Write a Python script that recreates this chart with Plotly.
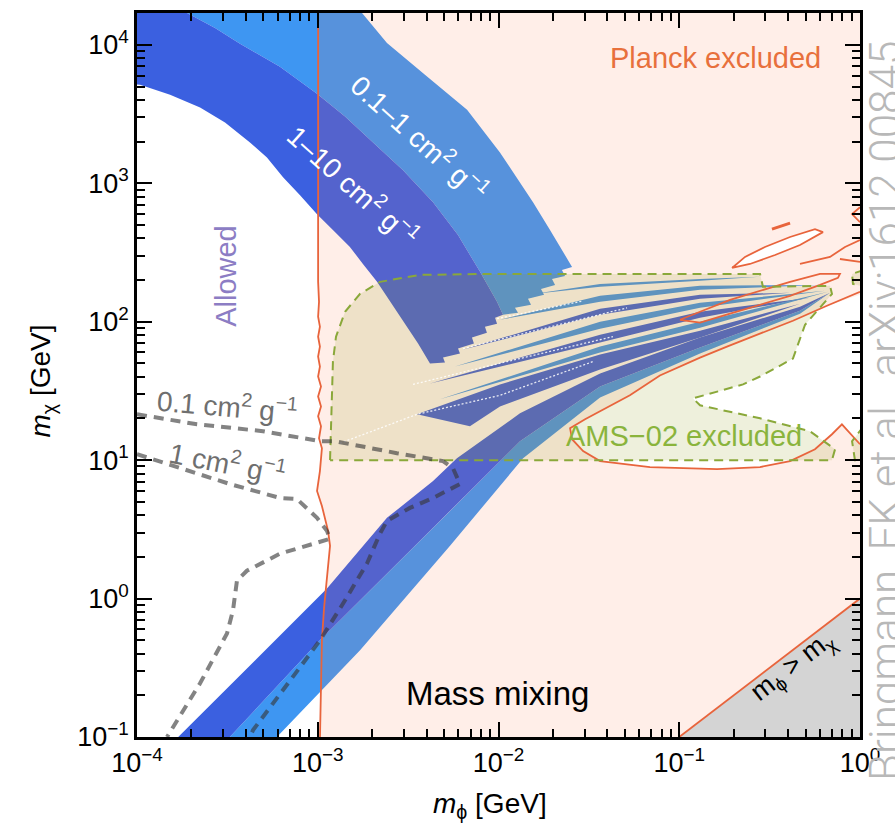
import numpy as np
import plotly.graph_objects as go

# ---------------- axis decades (tick labels) ----------------
X_DECADES = [-4, -3, -2, -1, 0]
Y_DECADES = [-1, 0, 1, 2, 3, 4]
X_RANGE_LOG = [-4.0, 0.0]
Y_RANGE_LOG = [-1.0, 4.23]

# ---------------- region boundaries ----------------
# all values are log10(m_phi / GeV) and log10(m_chi / GeV)

# upper branch, 1-10 cm^2/g (dark): dark/light boundary, jagged end, lower edge
UPPER_DARK_LX = [-4.05, -3.77, -3.723, -3.568, -3.430, -3.209, -3.004, -2.849, -2.694, -2.528,
                 -2.362, -2.224, -2.102, -2.008, -1.975,
                 -2.019, -2.008, -2.075, -2.064, -2.147, -2.136, -2.224, -2.213, -2.307, -2.296,
                 -2.379, -2.445, -2.517, -2.600, -2.672, -2.750, -2.822, -2.916, -3.004, -3.098,
                 -3.192, -3.281, -3.375, -3.513, -3.651, -3.817, -3.983, -4.05]
UPPER_DARK_LY = [4.30, 4.30, 4.23, 4.122, 4.007, 3.842, 3.647, 3.482, 3.295, 3.094,
                 2.863, 2.626, 2.360, 2.144, 2.050,
                 2.029, 1.986, 1.964, 1.921, 1.885, 1.842, 1.806, 1.770, 1.741, 1.705,
                 1.698, 1.842, 1.986, 2.144, 2.288, 2.417, 2.540, 2.662, 2.777, 2.914,
                 3.043, 3.187, 3.295, 3.439, 3.547, 3.640, 3.712, 3.72]
# upper branch, 0.1-1 cm^2/g (light): upper edge, jagged end, dark/light boundary
UPPER_LIGHT_LX = [-3.77, -2.80, -2.755, -2.617, -2.407, -2.174, -1.992, -1.809, -1.715, -1.621, -1.593,
                  -1.649, -1.632, -1.704, -1.687, -1.765, -1.748, -1.837, -1.820, -1.909, -1.892, -1.975,
                  -2.008, -2.102, -2.224, -2.362, -2.528, -2.694, -2.849, -3.004, -3.209, -3.430,
                  -3.568, -3.723]
UPPER_LIGHT_LY = [4.30, 4.30, 4.23, 4.014, 3.784, 3.532, 3.223, 2.863, 2.662, 2.453, 2.396,
                  2.374, 2.331, 2.309, 2.266, 2.237, 2.194, 2.165, 2.122, 2.101, 2.065, 2.050,
                  2.144, 2.360, 2.626, 2.863, 3.094, 3.295, 3.482, 3.647, 3.842, 4.007,
                  4.122, 4.23]

# resonance fan (tongues)
FAN1_LX = [-1.809, -1.438, -0.885, -0.553, -0.885, -1.438]
FAN1_LY = [2.201, 2.273, 2.309, 2.324, 2.295, 2.252]
FAN2_LX = [-1.992, -1.438, -0.885, -0.221, -0.885, -1.438]
FAN2_LY = [2.014, 2.187, 2.259, 2.266, 2.230, 2.144]
FAN3_LX = [-2.196, -1.438, -0.885, -0.387, -0.885, -1.438]
FAN3_LY = [1.799, 2.094, 2.194, 2.209, 2.165, 2.050]
FAN4_LX = [-2.241, -1.438, -0.885, -0.194, -0.885, -1.438]
FAN4_LY = [1.676, 2.000, 2.137, 2.223, 2.101, 1.950]
FAN5_LX = [-2.379, -1.438, -0.885, -0.277, -0.885, -1.438]
FAN5_LY = [1.554, 1.906, 2.072, 2.173, 2.029, 1.849]
FAN6_LX = [-2.324, -1.438, -0.885, -0.177, -0.885, -1.438]
FAN6_LY = [1.439, 1.820, 2.000, 2.216, 1.957, 1.777]
FAN7_LX = [-2.451, -1.992, -1.438, -0.885, -0.332, -0.885, -1.438, -1.992, -2.158]
FAN7_LY = [1.331, 1.547, 1.763, 1.935, 2.129, 1.885, 1.655, 1.388, 1.245]

# lower branch
LOWER_DARK_LX = [-3.795, -2.949, -2.617, -2.362, -2.230, -1.881, -1.438, -0.885, -0.332, -0.166,
                 -0.332, -0.885, -1.438, -1.881, -2.102, -2.268, -2.988, -3.508]
LOWER_DARK_LY = [-1.03, 0.072, 0.583, 0.849, 1.014, 1.338, 1.626, 1.885, 2.108, 2.209,
                 2.079, 1.813, 1.532, 1.137, 0.849, 0.633, -0.302, -1.03]
LOWER_LIGHT_LX = [-3.508, -2.988, -2.268, -2.102, -1.881, -1.438, -0.885, -0.332, -0.166, -0.332,
                  -0.885, -1.438, -1.864, -2.268, -2.766, -3.248]
LOWER_LIGHT_LY = [-1.03, -0.302, 0.633, 0.849, 1.137, 1.532, 1.813, 2.079, 2.209, 2.058,
                  1.770, 1.453, 1.014, 0.381, -0.374, -1.03]

# Planck bound (vertical red contour), bottom to top
PLANCK_LX = [-2.988, -2.982, -2.977, -2.965, -2.949, -2.932, -2.943, -2.977, -3.004, -2.988,
             -2.977, -2.993, -2.982, -2.998, -2.982, -2.998, -2.982, -2.998, -2.988, -2.998,
             -2.988, -2.998, -2.988, -2.998, -2.993, -2.998, -2.998]
PLANCK_LY = [-1.03, -0.590, -0.302, -0.065, 0.129, 0.381, 0.489, 0.669, 0.777, 0.921,
             1.086, 1.158, 1.245, 1.317, 1.388, 1.460, 1.532, 1.604, 1.676, 1.748,
             1.820, 1.892, 1.964, 2.036, 2.144, 2.288, 4.30]
# allowed island at high m_phi (red contour)
ISLAND_TOP_LX = [-1.604, -1.521, -1.438, -1.273, -1.107, -0.885, -0.736, -0.553, -0.371, -0.183, 0.0]
ISLAND_TOP_LY = [1.230, 1.295, 1.353, 1.468, 1.612, 1.741, 1.820, 1.914, 2.007, 2.115, 2.216]
ISLAND_BOT_LX = [0.0, -0.055, -0.100, -0.155, -0.249, -0.387, -0.553, -0.791, -1.162, -1.438, -1.532, -1.593, -1.604]
ISLAND_BOT_LY = [1.115, 1.194, 1.259, 1.187, 1.079, 0.993, 0.950, 0.935, 0.950, 0.993, 1.065, 1.151, 1.230]
ELLIPSE1_LX = [-0.708, -0.609, -0.470, -0.332, -0.205, -0.249, -0.387, -0.526, -0.636, -0.708]
ELLIPSE1_LY = [2.388, 2.417, 2.482, 2.554, 2.647, 2.669, 2.612, 2.540, 2.468, 2.388]
CONTOUR2_LX = [-0.996, -0.885, -0.719, -0.553, -0.387, -0.221, -0.122, -0.111, -0.221, -0.387, -0.553, -0.719, -0.885, -0.996]
CONTOUR2_LY = [2.014, 1.993, 2.058, 2.122, 2.187, 2.266, 2.317, 2.345, 2.345, 2.288, 2.223, 2.158, 2.072, 2.014]
SMALL_DASH_LX = [-0.487, -0.387]
SMALL_DASH_LY = [2.669, 2.712]
EDGE_U_LX = [-0.332, -0.166, -0.083, 0.0]
EDGE_U_LY = [2.417, 2.468, 2.540, 2.590]
EDGE_M_LX = [-0.111, 0.0]
EDGE_M_LY = [2.453, 2.432]
EDGE_ARC_LX = [0.0, -0.044, 0.0]
EDGE_ARC_LY = [2.827, 2.777, 2.719]

# m_phi > m_chi kinematic region
TRIANGLE_LX = [-1.0, 0.0, 0.0, -1.0]
TRIANGLE_LY = [-1.0, 0.0, -1.0, -1.0]

# AMS-02 excluded region
AMS_LX = [-2.932, -2.927, -2.916, -2.899, -2.849, -2.766, -2.656, -2.434, -2.102, -0.553, -0.537, -0.166,
          -0.155, -0.304, -0.371, -0.553, -0.647, -0.924, -0.885, -0.553, -0.277, -0.138, -0.155, -2.932]
AMS_LY = [1.0, 1.281, 1.712, 1.892, 2.072, 2.201, 2.288, 2.338, 2.345, 2.345, 2.252, 2.259,
          2.201, 1.978, 1.734, 1.604, 1.547, 1.446, 1.396, 1.302, 1.209, 1.079, 1.0, 1.0]
AMS_P1_LX = [0.02, -0.044, -0.039, 0.02]
AMS_P1_LY = [2.374, 2.345, 2.273, 2.252]
AMS_P2_LX = [0.02, -0.044, -0.028, 0.02]
AMS_P2_LY = [1.245, 1.137, 1.0, 1.0]

# grey dashed iso-cross-section lines
SIG01_LX = [-4.0, -3.668, -3.303, -3.082, -2.988, -2.905, -2.822, -2.562, -2.307, -2.252, -2.213,
            -2.362, -2.490, -2.617, -2.656, -2.728, -2.860, -2.988, -3.098, -3.358, -3.375]
SIG01_LY = [1.331, 1.259, 1.209, 1.158, 1.137, 1.137, 1.115, 1.050, 0.993, 0.942, 0.827,
            0.727, 0.655, 0.561, 0.468, 0.252, -0.036, -0.302, -0.496, -0.950, -1.0]
SIG1_LX = [-4.0, -3.762, -3.485, -3.209, -3.115, -3.004, -2.949, -2.932, -3.026, -3.209, -3.392,
           -3.447, -3.469, -3.502, -3.651, -3.817, -3.834]
SIG1_LY = [1.043, 0.942, 0.827, 0.727, 0.719, 0.583, 0.489, 0.432, 0.396, 0.324, 0.201,
           0.129, -0.086, -0.252, -0.612, -0.971, -1.0]

# thin white dotted resonance lines
DOT1_LX = [-2.877, -2.451, -1.992, -1.477]
DOT1_LY = [1.122, 1.331, 1.468, 1.712]
DOT2_LX = [-2.473, -1.953, -1.367]
DOT2_LY = [1.547, 1.712, 1.892]
DOT3_LX = [-2.196, -1.289]
DOT3_LY = [1.806, 2.10]
DOT4_LX = [-2.008, -1.532]
DOT4_LY = [2.022, 2.15]

# ---------------- colours ----------------
DARK = "#3b60e0"
LIGHT = "#3e96f2"
PINK = "rgba(255,120,80,0.13)"
AMS_FILL = "rgba(142,155,22,0.15)"
RED = "#e8643c"
AMS_LINE = "#8aa83a"
GREY_DASH = "rgba(55,55,55,0.62)"


def G(v):
    return list(10.0 ** np.asarray(v, dtype=float))


fig = go.Figure()


def poly(lx, ly, color):
    fig.add_trace(go.Scatter(x=G(lx), y=G(ly), mode="lines", fill="toself", fillcolor=color,
                             line=dict(width=0, color=color), hoverinfo="skip", showlegend=False))


def line(lx, ly, color, width, dash="solid"):
    fig.add_trace(go.Scatter(x=G(lx), y=G(ly), mode="lines",
                             line=dict(color=color, width=width, dash=dash),
                             hoverinfo="skip", showlegend=False))


# bands
poly(UPPER_LIGHT_LX, UPPER_LIGHT_LY, LIGHT)
poly(UPPER_DARK_LX, UPPER_DARK_LY, DARK)
for lx, ly, c in [(FAN1_LX, FAN1_LY, LIGHT), (FAN2_LX, FAN2_LY, LIGHT), (FAN3_LX, FAN3_LY, DARK),
                  (FAN4_LX, FAN4_LY, LIGHT), (FAN5_LX, FAN5_LY, DARK), (FAN6_LX, FAN6_LY, LIGHT),
                  (FAN7_LX, FAN7_LY, DARK)]:
    poly(lx, ly, c)
poly(LOWER_LIGHT_LX, LOWER_LIGHT_LY, LIGHT)
poly(LOWER_DARK_LX, LOWER_DARK_LY, DARK)

# Planck excluded region (pink veil), with the allowed island cut out
planck_lx = (PLANCK_LX + [0.05, 0.05] + ISLAND_TOP_LX[::-1][1:] + ISLAND_BOT_LX[::-1]
             + [0.05, 0.05, PLANCK_LX[0]])
planck_ly = (PLANCK_LY + [4.30, ISLAND_TOP_LY[-1]] + ISLAND_TOP_LY[::-1][1:] + ISLAND_BOT_LY[::-1]
             + [ISLAND_BOT_LY[0], -1.03, PLANCK_LY[0]])
poly(planck_lx, planck_ly, PINK)
poly(ELLIPSE1_LX, ELLIPSE1_LY, "white")

# kinematically forbidden triangle
poly(TRIANGLE_LX, TRIANGLE_LY, "#d4d4d4")

# AMS-02 region
poly(AMS_LX, AMS_LY, AMS_FILL)
poly(AMS_P1_LX, AMS_P1_LY, AMS_FILL)
poly(AMS_P2_LX, AMS_P2_LY, AMS_FILL)

# white dotted lines
for lx, ly in [(DOT1_LX, DOT1_LY), (DOT2_LX, DOT2_LY), (DOT3_LX, DOT3_LY), (DOT4_LX, DOT4_LY)]:
    line(lx, ly, "rgba(255,255,255,0.85)", 1.3, "2px,2px")

# red Planck contours
line(PLANCK_LX, PLANCK_LY, RED, 1.8)
line(ISLAND_BOT_LX + ISLAND_TOP_LX, ISLAND_BOT_LY + ISLAND_TOP_LY, RED, 1.8)
line(ELLIPSE1_LX, ELLIPSE1_LY, RED, 1.8)
line(CONTOUR2_LX, CONTOUR2_LY, RED, 1.8)
line(SMALL_DASH_LX, SMALL_DASH_LY, RED, 3)
line(EDGE_U_LX, EDGE_U_LY, RED, 1.8)
line(EDGE_M_LX, EDGE_M_LY, RED, 1.8)
line(EDGE_ARC_LX, EDGE_ARC_LY, RED, 1.8)
line(TRIANGLE_LX[:2], TRIANGLE_LY[:2], RED, 1.8)

# AMS dashed outline
line(AMS_LX, AMS_LY, AMS_LINE, 2, "9px,6px")
line(AMS_P1_LX, AMS_P1_LY, AMS_LINE, 2, "9px,6px")
line(AMS_P2_LX, AMS_P2_LY, AMS_LINE, 2, "9px,6px")

# grey dashed lines
line(SIG01_LX, SIG01_LY, GREY_DASH, 4, "10px,7px")
line(SIG1_LX, SIG1_LY, GREY_DASH, 4, "10px,7px")

FONT = "Liberation Sans, Arial, sans-serif"


def label(text, lx, ly, size, color, angle=0, xref="x", yref="y", family=FONT, weight=None, xanchor="center"):
    f = dict(family=family, size=size, color=color)
    if weight is not None:
        f["weight"] = weight
    fig.add_annotation(text=text, x=lx, y=ly, xref=xref, yref=yref, showarrow=False,
                       textangle=angle, font=f, xanchor=xanchor, yanchor="middle")


label("Planck excluded", -0.802, 3.906, 29, "#e8703c")
label("0.1–1 cm<sup>2</sup> g<sup>−1</sup>", -2.434, 3.331, 28, "white", 42)
label("1–10 cm<sup>2</sup> g<sup>−1</sup>", -2.80, 2.99, 28, "white", 42)
label("Allowed", -3.508, 2.331, 29, "#8c7dc4", -90)
label("0.1 cm<sup>2</sup> g<sup>−1</sup>", -3.497, 1.396, 28, "#6f6f6f", 5)
label("1 cm<sup>2</sup> g<sup>−1</sup>", -3.497, 0.986, 28, "#6f6f6f", 11)
label("AMS−02 excluded", -0.974, 1.173, 29, "#8ab43c")
label("Mass mixing", -2.003, -0.683, 33, "black")
label("m<sub>ϕ</sub> &gt; m<sub>χ</sub>", -0.371, -0.496, 27, "black", -37.7)

# axis titles
label("<i>m</i><sub>χ</sub> [GeV]", -0.130, 0.491, 28, "black", -90, "paper", "paper")
label("<i>m</i><sub>ϕ</sub> [GeV]", 0.488, -0.095, 28, "black", 0, "paper", "paper")

# watermark
label("Bringmann, FK et al., arXiv:1612.00845", 0.997, 0.45, 44, "#b8b8b8", -90, "paper", "paper",
      family="Roboto, Liberation Sans, sans-serif", weight=300, xanchor="left")

x_tickvals = [10.0 ** d for d in X_DECADES]
x_ticktext = ["10<sup>" + ("−" if d < 0 else "") + str(abs(d)) + "</sup>" for d in X_DECADES]
y_tickvals = [10.0 ** d for d in Y_DECADES]
y_ticktext = ["10<sup>" + ("−" if d < 0 else "") + str(abs(d)) + "</sup>" for d in Y_DECADES]
x_minor = [m * 10.0 ** d for d in X_DECADES[:-1] for m in range(2, 10)]
y_minor = [m * 10.0 ** d for d in Y_DECADES[:-1] for m in range(2, 10)]

axis_common = dict(type="log", showgrid=False, zeroline=False, showline=True, linecolor="black",
                   linewidth=2.5, mirror="allticks", ticks="inside", ticklen=15, tickwidth=2,
                   tickcolor="black", tickfont=dict(family=FONT, size=27, color="black"),
                   tickmode="array")
fig.update_xaxes(range=X_RANGE_LOG, tickvals=x_tickvals, ticktext=x_ticktext,
                 minor=dict(tickmode="array", tickvals=x_minor, ticks="inside", ticklen=8,
                            tickwidth=2, tickcolor="black", showgrid=False), **axis_common)
fig.update_yaxes(range=Y_RANGE_LOG, tickvals=y_tickvals, ticktext=y_ticktext,
                 minor=dict(tickmode="array", tickvals=y_minor, ticks="inside", ticklen=8,
                            tickwidth=2, tickcolor="black", showgrid=False), **axis_common)

fig.update_layout(width=895, height=831, margin=dict(l=137, r=35, t=10, b=94),
                  plot_bgcolor="white", paper_bgcolor="white", showlegend=False,
                  font=dict(family=FONT, size=27, color="black"))

fig.write_html("out.html")
